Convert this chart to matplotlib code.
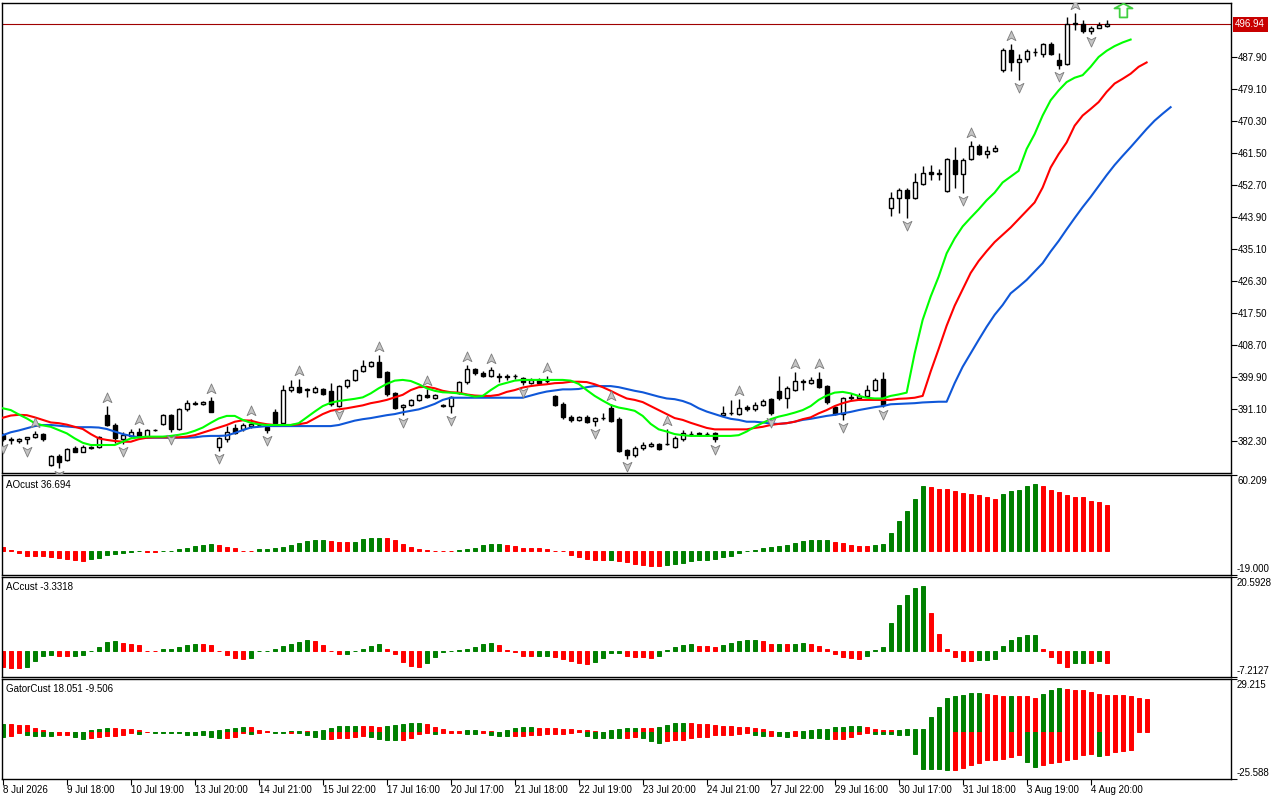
import matplotlib
matplotlib.use('Agg')
import matplotlib.pyplot as plt
import matplotlib.transforms as mtransforms
from matplotlib.path import Path
import numpy as np

plt.rcParams['font.family'] = ['Liberation Sans', 'DejaVu Sans']
plt.rcParams['font.size'] = 7

# ---- candles (bar 0 = 8 Jul 2026) ----
opens = [383.9, 382.8, 382.2, 382.8, 383.3, 384.2, 375.7, 378.2, 377.1, 380.3,
         379.4, 380.5, 380.6, 389.4, 386.7, 382.8, 383.7, 384.9, 383.3, 385.2,
         386.9, 389.4, 385.6, 391.0, 392.6, 392.5, 393.3, 380.6, 382.8, 386.0,
         385.5, 386.3, 386.7, 386.2, 390.4, 387.3, 396.2, 397.2, 396.3, 395.9,
         396.5, 396.0, 391.9, 397.4, 399.1, 401.6, 402.9, 403.9, 401.2, 395.4,
         391.6, 392.1, 393.6, 394.9, 394.1, 392.0, 391.9, 395.6, 398.4, 402.0,
         401.1, 400.2, 400.0, 400.1, 400.2, 399.5, 398.3, 399.1, 398.8, 394.7,
         392.5, 388.8, 388.2, 389.0, 387.9, 388.5, 391.3, 388.3, 379.8, 378.4,
         380.3, 380.9, 381.5, 381.4, 380.7, 382.8, 384.2, 384.3, 384.3, 384.4,
         389.5, 390.0, 389.7, 391.7, 391.0, 392.2, 393.8, 396.1, 394.0, 396.3,
         398.6, 398.3, 399.3, 397.5, 391.6, 389.7, 394.2, 394.0, 394.7, 396.3,
         399.3, 446.3, 449.1, 451.3, 449.2, 453.1, 456.4, 455.9, 451.1, 459.6,
         455.7, 459.8, 463.5, 461.2, 462.0, 484.2, 489.9, 486.5, 487.4, 489.2,
         488.8, 491.4, 487.0, 486.1, 497.0, 497.1, 495.1, 496.0, 496.5]
highs = [384.5, 383.5, 383.1, 383.5, 385.0, 384.6, 378.4, 378.7, 380.5, 380.8,
         381.2, 381.0, 383.8, 391.9, 387.3, 384.8, 385.5, 386.0, 385.6, 385.7,
         389.7, 389.8, 391.5, 393.5, 393.2, 393.3, 394.5, 383.4, 386.5, 386.9,
         387.2, 388.3, 387.3, 386.6, 391.0, 397.7, 399.0, 399.3, 396.9, 397.3,
         396.9, 398.2, 397.6, 399.3, 402.1, 404.6, 404.2, 406.0, 401.5, 395.8,
         392.5, 393.9, 395.2, 396.5, 395.3, 392.5, 394.8, 398.7, 403.2, 402.5,
         401.5, 402.7, 401.0, 400.8, 400.8, 400.0, 399.6, 399.5, 400.3, 395.0,
         393.0, 389.5, 389.2, 389.5, 388.9, 390.0, 392.5, 389.0, 380.0, 381.0,
         381.9, 381.9, 381.8, 385.5, 383.8, 385.2, 385.0, 384.9, 384.7, 384.8,
         391.9, 393.5, 393.8, 392.2, 393.0, 393.9, 394.1, 400.2, 397.4, 401.4,
         399.3, 399.8, 401.2, 397.8, 392.0, 394.3, 395.5, 395.5, 397.8, 399.6,
         401.4, 450.9, 451.8, 452.0, 456.1, 458.0, 458.3, 457.0, 460.1, 463.1,
         460.0, 464.9, 464.0, 463.5, 463.8, 490.5, 491.6, 488.8, 490.2, 490.3,
         491.8, 492.1, 489.0, 499.0, 499.9, 498.2, 496.5, 497.4, 498.0]
lows = [382.3, 381.5, 381.8, 381.5, 383.1, 382.4, 375.5, 375.0, 376.8, 379.2,
        379.2, 380.2, 380.4, 386.5, 381.7, 381.4, 383.3, 383.0, 383.0, 385.0,
        386.6, 384.9, 385.3, 390.5, 392.2, 392.2, 390.2, 379.6, 382.0, 384.2,
        385.0, 386.0, 386.3, 384.6, 387.0, 387.0, 395.8, 395.6, 394.3, 395.5,
        394.9, 392.0, 391.6, 397.0, 398.8, 401.3, 402.6, 399.8, 394.8, 391.0,
        389.5, 391.8, 393.3, 394.0, 393.8, 391.6, 389.9, 395.3, 398.0, 400.5,
        399.8, 399.8, 398.5, 399.0, 399.3, 397.6, 397.9, 398.0, 398.2, 391.8,
        388.3, 387.6, 387.9, 387.2, 386.5, 388.0, 387.6, 379.3, 377.3, 377.8,
        379.8, 380.6, 379.8, 381.2, 380.4, 382.3, 383.7, 383.8, 383.8, 382.0,
        389.2, 389.4, 389.5, 390.5, 390.5, 391.9, 389.5, 393.7, 391.3, 396.0,
        396.3, 398.0, 396.8, 392.5, 389.4, 388.0, 393.6, 393.7, 394.4, 396.0,
        391.6, 444.2, 445.1, 443.5, 448.9, 452.8, 454.0, 454.0, 450.8, 452.0,
        450.4, 459.5, 460.9, 460.1, 461.7, 483.9, 484.1, 481.5, 486.4, 488.2,
        487.9, 488.5, 484.7, 485.8, 495.3, 494.5, 494.3, 495.8, 496.2]
closes = [382.8, 382.5, 382.9, 383.3, 384.1, 382.8, 378.2, 376.6, 380.2, 379.4,
          380.7, 380.6, 383.5, 386.7, 383.0, 384.0, 384.8, 383.5, 385.3, 385.4,
          389.4, 385.5, 391.0, 392.8, 392.7, 393.0, 390.4, 383.0, 384.9, 384.6,
          386.6, 386.9, 386.8, 385.3, 387.3, 396.3, 397.2, 395.9, 396.5, 396.8,
          395.1, 392.5, 397.4, 399.1, 401.8, 402.9, 403.9, 400.0, 395.1, 391.5,
          392.1, 393.6, 394.9, 394.3, 395.0, 392.1, 394.5, 398.4, 402.0, 400.9,
          400.2, 401.8, 400.1, 400.0, 400.1, 398.6, 399.1, 398.3, 398.7, 392.2,
          388.8, 388.1, 388.8, 387.6, 388.5, 388.6, 387.9, 379.6, 378.4, 380.3,
          381.2, 381.5, 380.0, 381.5, 383.0, 384.4, 384.3, 384.4, 384.2, 382.8,
          389.9, 390.1, 391.3, 391.0, 392.2, 393.4, 389.9, 394.0, 396.8, 398.9,
          398.8, 399.1, 397.1, 392.9, 389.7, 394.0, 394.3, 394.7, 396.3, 399.1,
          392.2, 449.1, 451.3, 449.2, 453.4, 456.1, 455.7, 455.8, 459.8, 455.7,
          459.6, 463.5, 461.2, 462.1, 462.8, 489.9, 486.5, 487.4, 489.6, 489.3,
          491.4, 488.8, 485.6, 497.1, 497.2, 495.1, 496.0, 496.7, 496.94]

# alligator lines, already shifted forward (jaw 8, teeth 5, lips 3 bars)
jaw = [383.9, 384.7, 385.2, 385.8, 386.4, 386.7, 386.7, 386.5, 386.3, 386.1,
       386.1, 386.1, 386.0, 385.6, 384.9, 384.2, 383.7, 383.3, 383.2, 383.2,
       383.2, 383.2, 383.2, 383.2, 383.3, 383.6, 383.7, 383.7, 383.8, 384.5,
       385.3, 386.0, 386.2, 386.4, 386.4, 386.4, 386.4, 386.4, 386.4, 386.4,
       386.4, 386.4, 386.7, 387.3, 387.9, 388.3, 388.6, 389.0, 389.4, 389.7,
       390.2, 390.6, 391.0, 391.7, 392.5, 393.6, 394.2, 394.2, 394.2, 394.2,
       394.2, 394.2, 394.2, 394.2, 394.2, 394.2, 394.8, 395.4, 395.9, 396.2,
       396.5, 396.5, 396.6, 397.1, 397.4, 397.4, 397.4, 397.1, 396.6, 396.1,
       395.7, 395.1, 394.5, 394.0, 393.8, 393.3, 392.5, 391.3, 390.4, 389.7,
       389.0, 388.4, 388.1, 387.6, 387.6, 387.4, 387.1, 387.0, 387.2, 387.6,
       388.1, 388.4, 388.8, 389.2, 389.5, 389.9, 390.3, 390.8, 391.2, 391.6,
       391.9, 392.4, 392.5, 392.6, 392.7, 392.9, 393.0, 393.1, 393.1, 398.2,
       402.7, 406.4, 410.1, 413.7, 417.0, 419.7, 422.9, 424.7, 426.6, 428.9,
       431.2, 434.4, 437.3, 440.5, 443.6, 446.6, 449.4, 452.4, 455.4, 458.2,
       460.7, 463.1, 465.6, 468.1, 470.4, 472.3, 474.1]
teeth = [388.7, 389.3, 389.5, 389.4, 388.8, 388.1, 387.4, 387.2, 386.8, 386.2,
         385.6, 384.2, 383.0, 382.6, 382.3, 382.1, 382.1, 382.8, 383.2, 383.3,
         383.3, 383.3, 383.3, 383.5, 383.9, 384.6, 385.3, 386.0, 386.7, 387.6,
         388.0, 387.9, 387.3, 386.9, 386.7, 386.7, 386.7, 386.9, 387.3, 388.5,
         389.7, 390.6, 391.0, 391.3, 391.7, 392.1, 392.7, 393.1, 393.6, 394.3,
         395.0, 396.3, 397.1, 397.2, 396.8, 396.1, 395.7, 395.6, 395.1, 394.8,
         394.7, 394.7, 395.0, 395.8, 396.3, 397.0, 397.4, 397.7, 397.9, 398.2,
         398.3, 398.6, 398.6, 398.5, 397.9, 397.1, 396.1, 395.0, 394.0, 393.6,
         393.0, 391.9, 390.8, 389.7, 388.6, 388.1, 387.3, 386.6, 385.9, 385.5,
         385.5, 385.5, 385.5, 385.5, 385.9, 386.2, 386.7, 387.0, 387.2, 387.6,
         388.3, 388.8, 389.9, 390.8, 391.9, 392.7, 393.3, 393.6, 393.6, 393.6,
         393.6, 393.6, 393.9, 394.0, 394.2, 394.7, 401.4, 407.6, 414.0, 419.5,
         424.0, 428.5, 431.8, 434.5, 437.0, 439.0, 441.0, 443.3, 445.6, 447.9,
         452.0, 457.5, 461.2, 464.4, 469.0, 471.8, 473.6, 475.5, 478.3, 480.6,
         481.9, 483.3, 485.2, 486.4]
lips = [391.3, 390.8, 389.6, 388.5, 387.2, 386.6, 386.2, 385.3, 384.4, 383.0,
        381.8, 381.2, 381.2, 381.2, 381.2, 382.1, 383.0, 383.3, 383.5, 383.5,
        383.5, 383.7, 384.0, 384.4, 385.1, 386.0, 387.3, 388.5, 389.2, 389.2,
        388.1, 387.3, 386.9, 386.7, 386.7, 386.7, 386.7, 387.2, 388.8, 390.4,
        391.9, 392.8, 393.3, 393.6, 393.9, 394.3, 395.4, 396.8, 398.0, 398.9,
        399.1, 398.8, 397.9, 396.8, 396.1, 395.7, 395.6, 395.4, 395.0, 394.5,
        394.7, 396.3, 397.7, 398.3, 398.9, 399.1, 399.1, 399.1, 399.1, 399.1,
        399.1, 398.9, 398.0, 396.3, 394.7, 393.4, 392.2, 391.5, 391.1, 390.6,
        389.2, 387.0, 385.5, 384.9, 384.2, 383.9, 383.7, 383.7, 383.7, 383.7,
        383.7, 383.7, 383.9, 384.9, 386.2, 387.3, 388.3, 389.0, 389.5, 390.1,
        390.8, 391.9, 393.6, 394.8, 395.6, 395.8, 395.4, 394.7, 394.2, 394.0,
        394.0, 394.7, 395.1, 395.6, 406.4, 415.6, 422.0, 427.5, 433.9, 438.0,
        441.3, 443.7, 446.0, 448.5, 450.6, 453.4, 455.0, 456.6, 462.6, 466.7,
        471.8, 476.0, 478.7, 481.0, 482.2, 482.9, 485.2, 487.9, 489.6, 490.9,
        491.9, 492.7]

# fractal bars
up_fractals = [4, 13, 17, 26, 31, 37, 47, 53, 58, 61, 68, 76, 83, 92, 99, 102, 121, 126, 134]
down_fractals = [0, 3, 7, 15, 21, 27, 33, 42, 50, 56, 65, 74, 78, 89, 96, 105, 110, 113,
                 120, 127, 132, 136]
signal_bar = 140
signal_price = 500.8
last_price = 496.94
price_ticks = [382.30, 391.10, 399.90, 408.70, 417.50, 426.30, 435.10, 443.90,
               452.70, 461.50, 470.30, 479.10, 487.90]

# Awesome oscillator
ao = [2.8, 0.7, -1.5, -3.9, -4.0, -4.1, -4.7, -5.5, -6.5, -6.8,
      -7.9, -6.3, -5.5, -3.3, -2.0, -1.5, -0.6, -0.3, -0.5, -0.6,
      -0.3, 0.2, 1.7, 2.5, 3.9, 4.7, 5.5, 4.7, 2.8, 2.0,
      0.4, -0.3, 1.5, 1.7, 2.0, 2.8, 4.7, 6.5, 8.1, 8.7,
      8.8, 8.1, 7.3, 7.2, 7.4, 9.2, 10.0, 10.3, 10.0, 8.7,
      5.5, 3.3, 1.7, 0.5, 0.4, 0.3, 0.2, 0.5, 1.6, 2.7,
      4.6, 5.4, 5.5, 4.6, 3.8, 2.7, 2.2, 2.1, 1.4, 0.3,
      -0.2, -2.8, -5.1, -6.0, -7.3, -7.4, -7.2, -7.8, -8.9, -10.5,
      -11.3, -12.1, -12.2, -11.3, -10.0, -9.5, -7.9, -7.3, -7.2, -6.5,
      -4.7, -3.9, -1.5, -0.3, 0.5, 2.2, 2.8, 3.6, 4.4, 6.5,
      8.1, 8.6, 8.7, 8.8, 7.3, 6.0, 4.4, 3.9, 3.8, 4.5,
      5.3, 14.4, 23.7, 31.7, 41.3, 51.2, 50.4, 49.3, 49.2, 47.7,
      46.1, 45.1, 44.0, 42.4, 41.3, 44.8, 47.2, 48.5, 51.2, 53.3,
      51.2, 48.5, 46.4, 44.5, 42.9, 42.7, 39.7, 38.9, 36.694]
ao_col = ("rrrrrrrrrrr" "ggggggg" "rr" "ggggggg" "rrrrr" "ggggggggg" "rrr" "gggg" "rrrrr"
          "rrrr" "gggggg" "rrrrrrrrrrrrr" "g" "rrrrrr" "ggggggggggggggggggggg" "rrrrr"
          "ggggggg" "rrrrrrrrr" "ggggg" "rrrrrrrrr")

# Accelerator oscillator
ac = [-4.3, -4.6, -4.7, -4.4, -2.7, -1.3, -1.2, -1.3, -1.4, -1.3,
      -1.1, -0.1, 1.0, 2.6, 2.9, 2.3, 1.9, 1.7, 0.1, -0.1,
      0.5, 0.7, 1.0, 1.7, 2.1, 1.9, 1.8, 0.05, -1.1, -1.9,
      -2.2, -1.9, -0.1, 0.05, 0.7, 1.4, 2.1, 2.6, 3.1, 2.8,
      1.7, 0.05, -0.8, -0.7, -0.05, 0.5, 1.4, 1.9, 0.7, -0.8,
      -3.0, -4.2, -4.4, -3.2, -1.6, -0.2, 0.0, 0.3, 0.7, 1.2,
      2.1, 2.3, 1.7, 0.2, -0.4, -1.4, -1.45, -1.3, -1.25, -1.6,
      -2.3, -2.7, -3.4, -3.6, -3.0, -1.8, -0.6, -0.45, -1.4, -1.6,
      -1.75, -1.8, -1.3, 0.2, 1.0, 1.7, 1.9, 1.5, 1.4, 1.0,
      1.7, 2.3, 2.8, 3.1, 3.2, 2.8, 1.9, 1.95, 1.9, 2.1,
      2.15, 1.9, 1.4, 0.7, -0.8, -1.6, -1.8, -2.2, -1.3, 0.3,
      1.0, 7.7, 12.8, 15.6, 17.6, 18.1, 10.5, 4.7, 0.7, -1.6,
      -2.7, -2.75, -2.5, -2.45, -2.1, 1.4, 3.2, 4.0, 4.4, 4.45,
      0.7, -1.6, -3.4, -4.35, -3.4, -3.25, -3.3, -2.7, -3.3318]
ac_col = ("rrr" "gggg" "rr" "gggggg" "rrrrr" "ggggg" "rrrrrr" "gggggggg" "rrrr" "ggggg" "rrrrr"
          "ggggggggg" "rrrrr" "gg" "rrrrr" "gggg" "rrrr" "ggggg" "rrr" "ggggg" "rr" "g" "r" "gg"
          "rrrrrrr" "g"
          "ggggggg" "rrrrrr" "gggggggg" "rrrr" "gg" "r" "g" "r")

# Gator oscillator: upper |jaw-teeth|, lower -|teeth-lips|
gator_up = [4.6, 4.6, 4.0, 4.0, 2.4, 1.3, 0.3, 0.3, 0.3, 0.1,
            0.2, 1.3, 1.8, 2.4, 2.4, 1.8, 1.8, 1.3, 0.3, 0.15,
            0.15, 0.15, 0.15, 0.1, 0.1, 0.6, 0.7, 1.3, 1.8, 2.4,
            2.9, 2.9, 1.3, 0.5, 0.15, 0.15, 0.5, 0.5, 0.7, 0.7,
            1.3, 2.4, 3.3, 3.5, 3.6, 3.5, 3.4, 2.9, 3.5, 4.0,
            4.6, 5.1, 5.1, 4.6, 2.9, 1.8, 0.7, 0.5, 1.3, 1.4,
            0.7, 0.5, 0.2, 1.3, 2.4, 2.9, 2.9, 2.4, 2.4, 2.4,
            1.8, 1.8, 1.3, 1.3, 0.5, 0.1, 1.3, 1.8, 2.4, 2.4,
            2.4, 2.4, 2.9, 4.0, 5.1, 5.1, 5.1, 4.6, 4.6, 4.0,
            3.5, 3.5, 2.9, 2.9, 2.4, 1.8, 0.5, 0.1, 0.1, 0.5,
            0.5, 1.3, 1.8, 1.8, 2.9, 2.9, 3.5, 3.5, 2.9, 1.8,
            1.3, 1.3, 1.3, 1.8, 1.8, 1.8, 8.4, 13.9, 18.8, 19.9,
            20.5, 21.6, 21.6, 21.0, 20.5, 19.9, 20.1, 19.9, 19.7, 18.8,
            21.0, 23.2, 24.3, 23.7, 23.2, 23.2, 22.1, 21.0, 20.5, 20.5,
            20.5, 19.9, 18.8, 18.051]
gator_up_col = ("grrrrrrrrr" "ggggrrrrrg" "gggggggggg" "grrrggggrg" "gggggrrrgg"
                "gggrrrrrgg" "rrrggggrrr" "rrrrrrgggg" "rrggggrrrr" "rrrrrrrggr"
                "ggggggggrr" "rrgggggggg" "gggrrrgrrr" "gggrrrrrrr" "rrrr")
gator_dn = [-2.4, -2.0, -0.2, -1.5, -1.8, -1.8, -1.8, -1.3, -1.3, -2.4,
            -3.5, -3.1, -2.4, -1.8, -1.8, -1.3, -0.3, -0.9, -0.1, -0.15,
            -0.15, -0.15, -0.15, -1.5, -1.5, -1.5, -2.4, -3.1, -3.1, -2.4,
            -0.5, -0.9, -0.2, -0.1, -0.2, -0.2, -0.2, -0.5, -1.5, -2.6,
            -3.7, -3.7, -3.1, -3.1, -2.6, -2.0, -2.6, -3.7, -4.2, -4.2,
            -4.2, -3.1, -0.9, -0.3, -0.9, -0.4, -0.3, -0.2, -0.9, -0.9,
            -0.3, -1.3, -2.0, -2.0, -2.0, -2.0, -1.5, -1.5, -0.9, -0.9,
            -0.9, -0.4, -0.1, -2.0, -3.1, -3.1, -3.1, -3.1, -3.1, -2.6,
            -3.1, -4.7, -5.8, -4.7, -4.2, -4.2, -3.1, -2.6, -2.6, -1.5,
            -1.5, -1.5, -0.9, -0.4, -1.5, -2.0, -2.0, -2.0, -2.6, -2.0,
            -3.1, -3.1, -3.1, -3.7, -3.7, -3.7, -2.6, -0.9, -0.4, -0.9,
            -0.9, -0.8, -1.5, -1.5, -11.9, -20.1, -20.1, -20.1, -20.6, -20.6,
            -19.5, -17.9, -16.8, -15.2, -15.2, -14.6, -13.5, -12.4, -16.3, -19.0,
            -17.9, -16.8, -16.3, -15.2, -14.6, -12.4, -11.9, -13.0, -12.4, -10.8,
            -10.2, -9.506]
gator_dn_col = ("grrggggrrg" "grrrrrrgrg" "ggggggggrr" "rgrrggrggg" "grrrrrgggg"
                "rrrrgrrrgg" "rgggrrrrrr" "rrrgggggrr" "gggrrrrrrr" "rrrrggrggr"
                "ggggrrrrrg" "gggggggggr" "rrrrrrrrgg" "rrrrrrrgrr" "rr")

tick_bars = list(range(0, 137, 8))
tick_labels = ['8 Jul 2026', '9 Jul 18:00', '10 Jul 19:00', '13 Jul 20:00', '14 Jul 21:00',
               '15 Jul 22:00', '17 Jul 16:00', '20 Jul 17:00', '21 Jul 18:00', '22 Jul 19:00',
               '23 Jul 20:00', '24 Jul 21:00', '27 Jul 22:00', '29 Jul 16:00', '30 Jul 17:00',
               '31 Jul 18:00', '3 Aug 19:00', '4 Aug 20:00']

GREEN = '#008000'
RED = '#ff0000'

def cols(s):
    return [GREEN if ch == 'g' else RED for ch in s]

def hist(a, vals, colstr):
    cc = cols(colstr)
    # thin edge in the same colour so near-zero bars still show as a dash
    a.bar(np.arange(len(vals)), vals, width=0.48, color=cc, edgecolor=cc, lw=0.7)

fig = plt.figure(figsize=(12.8, 8), dpi=100)
W, H = 1280, 800

def panel(top, bottom, left=2, right=1231):
    return fig.add_axes([left / W, 1 - bottom / H, (right - left) / W, (bottom - top) / H])

ax = panel(3, 473)
ax_ao = panel(475, 575)
ax_ac = panel(577, 677)
ax_gt = panel(679, 779)

for a in (ax, ax_ao, ax_ac, ax_gt):
    a.set_xlim(-0.1, 153.55)
    for s in a.spines.values():
        s.set_linewidth(1.0)
        s.set_color('black')
    a.yaxis.tick_right()
    a.tick_params(axis='y', direction='out', length=4, width=0.8, pad=1, labelsize=7)
    a.tick_params(axis='x', bottom=False, labelbottom=False)

# ---- main chart ----
ax.set_ylim(373.5, 502.75)
o = np.array(opens); h = np.array(highs); l = np.array(lows); c = np.array(closes)
x = np.arange(len(o))
bull = c >= o
ax.vlines(x, l, h, color='black', lw=1, zorder=2)
lo = np.minimum(o, c)
ht = np.maximum(np.abs(c - o), 0.05)
ax.bar(x[bull], ht[bull], bottom=lo[bull], width=0.5, facecolor='white',
       edgecolor='black', lw=1, zorder=3)
ax.bar(x[~bull], ht[~bull], bottom=lo[~bull], width=0.5, facecolor='black',
       edgecolor='black', lw=1, zorder=3)

ax.plot(np.arange(len(jaw)), jaw, color='#0f57d8', lw=1.5, zorder=4)
ax.plot(np.arange(len(teeth)), teeth, color='#ff0000', lw=1.5, zorder=4)
ax.plot(np.arange(len(lips)), lips, color='#00ff00', lw=1.5, zorder=4)

# fractal arrows
up_path = Path([(0, 1), (0.8, -0.75), (0, -0.3), (-0.8, -0.75), (0, 1)],
               [Path.MOVETO, Path.LINETO, Path.LINETO, Path.LINETO, Path.CLOSEPOLY])
dn_path = Path([(0, -1), (0.8, 0.75), (0, 0.3), (-0.8, 0.75), (0, -1)],
               [Path.MOVETO, Path.LINETO, Path.LINETO, Path.LINETO, Path.CLOSEPOLY])
tr_up = mtransforms.offset_copy(ax.transData, fig=fig, y=8, units='dots')
tr_dn = mtransforms.offset_copy(ax.transData, fig=fig, y=-7, units='dots')
ax.plot(up_fractals, h[up_fractals], ls='none', marker=up_path, ms=8, mfc='#c4c4c4',
        mec='#7c7c7c', mew=0.6, transform=tr_up, zorder=5)
ax.plot(down_fractals, l[down_fractals], ls='none', marker=dn_path, ms=8, mfc='#c4c4c4',
        mec='#7c7c7c', mew=0.6, transform=tr_dn, zorder=5)

# green signal arrow
sig_path = Path([(0, 1), (1.3, 0.3), (0.55, 0.3), (0.55, -1), (-0.55, -1), (-0.55, 0.3),
                 (-1.3, 0.3), (0, 1)],
                [Path.MOVETO] + [Path.LINETO] * 6 + [Path.CLOSEPOLY])
ax.plot([signal_bar], [signal_price], ls='none', marker=sig_path, ms=13, mfc='none',
        mec='#3fcf3f', mew=1.3, zorder=5)

ax.axhline(last_price, color='#a00000', lw=0.8, zorder=1)
ax.set_yticks(price_ticks)
ax.set_yticklabels(['%.2f' % p for p in price_ticks])
ax.text(1.0035, last_price, '%.2f' % last_price, transform=ax.get_yaxis_transform(),
        ha='left', va='center', color='white', fontsize=7,
        bbox=dict(boxstyle='square,pad=0.25', fc='#c80000', ec='none'))

# ---- sub windows ----
def sub_scale(a, lo_v, hi_v, lo_txt, hi_txt, title):
    a.set_ylim(lo_v, hi_v)
    a.set_yticks([lo_v, hi_v])
    a.set_yticklabels([])
    a.annotate(hi_txt, xy=(1, 1), xycoords='axes fraction', xytext=(6, -1),
               textcoords='offset pixels', ha='left', va='top', fontsize=7)
    a.annotate(lo_txt, xy=(1, 0), xycoords='axes fraction', xytext=(6, 1),
               textcoords='offset pixels', ha='left', va='bottom', fontsize=7)
    a.annotate(title, xy=(0, 1), xycoords='axes fraction', xytext=(4, -5),
               textcoords='offset pixels', ha='left', va='top', fontsize=7)

hist(ax_ao, ao, ao_col)
sub_scale(ax_ao, -19.0, 60.209, '-19.000', '60.209', 'AOcust 36.694')

hist(ax_ac, ac, ac_col)
sub_scale(ax_ac, -7.2127, 20.5928, '-7.2127', '20.5928', 'ACcust -3.3318')

hist(ax_gt, gator_up, gator_up_col)
hist(ax_gt, gator_dn, gator_dn_col)
sub_scale(ax_gt, -25.588, 29.215, '-25.588', '29.215', 'GatorCust 18.051 -9.506')

ax_gt.tick_params(axis='x', bottom=True, labelbottom=True, direction='out', length=4,
                  width=0.8, pad=0.5, labelsize=7)
ax_gt.set_xticks(tick_bars)
ax_gt.set_xticklabels(tick_labels, ha='left')

fig.savefig('out.png', dpi=100)
